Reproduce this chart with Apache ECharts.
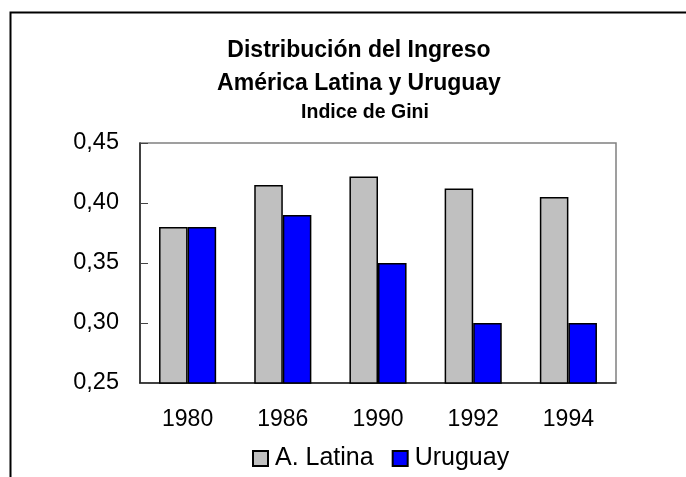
<!DOCTYPE html>
<html>
<head>
<meta charset="utf-8">
<script src="https://cdn.jsdelivr.net/npm/echarts@6/dist/echarts.min.js"></script>
<style>
html,body{margin:0;padding:0;background:#fff;}
#chart{width:686px;height:477px;}
</style>
</head>
<body>
<div id="chart"></div>
<script>
const categories = ['1980', '1986', '1990', '1992', '1994'];
const latinaValues = [0.38, 0.415, 0.422, 0.412, 0.405];
const uruguayValues = [0.38, 0.39, 0.35, 0.30, 0.30];
const seriesNames = ['A. Latina', 'Uruguay'];
const titleLines = ['Distribución del Ingreso', 'América Latina y Uruguay', 'Indice de Gini'];

const FONT = '"Liberation Sans", Arial, Helvetica, sans-serif';
const chart = echarts.init(document.getElementById('chart'));
chart.setOption({
  animation: false,
  backgroundColor: '#fff',
  graphic: [
    { type: 'rect', shape: { x: 10.5, y: 12.5, width: 700, height: 500 },
      style: { fill: 'none', stroke: '#000', lineWidth: 2 }, silent: true },
    { type: 'text', x: 359, y: 51, style: { text: titleLines[0], font: 'bold 23px ' + FONT, fill: '#000', textAlign: 'center', textVerticalAlign: 'middle' } },
    { type: 'text', x: 359, y: 84, style: { text: titleLines[1], font: 'bold 23px ' + FONT, fill: '#000', textAlign: 'center', textVerticalAlign: 'middle' } },
    { type: 'text', x: 365, y: 113, style: { text: titleLines[2], font: 'bold 19.5px ' + FONT, fill: '#000', textAlign: 'center', textVerticalAlign: 'middle' } }
  ],
  grid: { left: 140, right: 70, top: 143, bottom: 94, show: true, borderColor: '#808080', borderWidth: 1.5, backgroundColor: '#fff' },
  legend: {
    left: 252, top: 446, padding: 0,
    icon: 'rect', itemWidth: 15, itemHeight: 15, itemGap: 18,
    textStyle: { fontFamily: FONT, fontSize: 25, color: '#000', padding: [0, 0, 0, 2] },
    data: seriesNames
  },
  xAxis: {
    type: 'category', data: categories,
    axisLine: { lineStyle: { color: '#222', width: 1.5 } },
    axisTick: { inside: true, length: 7, lineStyle: { color: '#444' } },
    axisLabel: { fontFamily: FONT, fontSize: 23, color: '#000', margin: 25 }
  },
  yAxis: {
    type: 'value', min: 0.25, max: 0.45, interval: 0.05,
    splitLine: { show: false },
    axisLine: { show: true, lineStyle: { color: '#222', width: 1.5 } },
    axisTick: { show: true, inside: true, length: 8, lineStyle: { color: '#444' } },
    axisLabel: { fontFamily: FONT, fontSize: 23.5, color: '#000', margin: 21,
      formatter: v => v.toFixed(2).replace('.', ',') }
  },
  series: [
    { name: seriesNames[0], type: 'bar', data: latinaValues, barGap: '0%', barCategoryGap: '40%',
      itemStyle: { color: '#C0C0C0', borderColor: '#000', borderWidth: 1.5 } },
    { name: seriesNames[1], type: 'bar', data: uruguayValues, barGap: '0%', barCategoryGap: '40%',
      itemStyle: { color: '#0000FF', borderColor: '#000', borderWidth: 1.5 } }
  ]
});
</script>
</body>
</html>
